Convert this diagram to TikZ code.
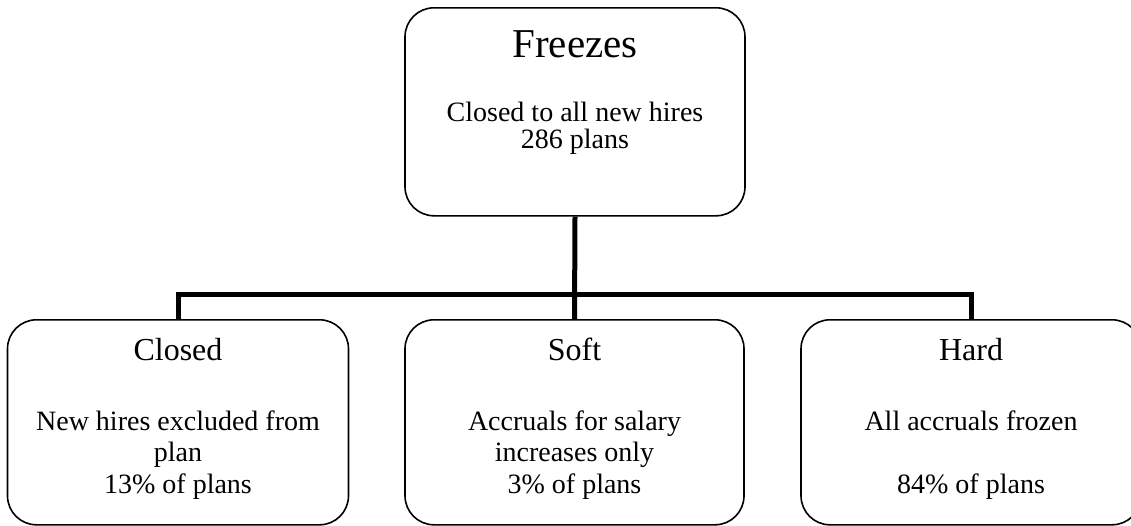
\documentclass[tikz,border=0pt]{standalone}
\usepackage{fontspec}
\setmainfont{Liberation Serif}
\begin{document}
\begin{tikzpicture}[x=1pt,y=-1pt,
  box/.style={draw=black, line width=1.6pt, rounded corners=29pt, inner sep=0pt, anchor=north, minimum height=205pt},
  conn/.style={draw=black, line width=5pt},
  big/.style={anchor=base, inner sep=0pt, font=\fontsize{41}{41}\selectfont},
  ttl/.style={anchor=base, inner sep=0pt, font=\fontsize{32}{32}\selectfont},
  txt/.style={anchor=base, inner sep=0pt, font=\fontsize{28}{28}\selectfont}]
\clip (0,0) rectangle (1131,525);
% boxes
\node[box, minimum width=340pt, minimum height=208pt] (top) at (575,7) {};
\node[box, minimum width=341pt] (closed) at (178,319) {};
\node[box, minimum width=339pt] (soft) at (574.5,319) {};
\node[box, minimum width=340pt] (hard) at (971,319) {};
% connectors
\draw[conn] (top.south) -- (soft.north);
\draw[conn] (closed.north) -- ++(0,-24.5) -| (hard.north);
% texts (multi-line nodes are anchored at the baseline of their last line)
\node[big] (t0) at (575,57) {Freezes};
\node[txt, align=center, font=\fontsize{28}{26.5}\selectfont] (t1) at (575,148) {Closed to all new hires\\286 plans};
\node[ttl] (c0) at (178,360) {Closed};
\node[txt, align=center, font=\fontsize{28}{31.5}\selectfont] (c1) at (178,493) {New hires excluded from\\plan\\13\% of plans};
\node[ttl] (s0) at (574.5,360) {Soft};
\node[txt, align=center, font=\fontsize{28}{31.5}\selectfont] (s1) at (574.5,493) {Accruals for salary\\increases only\\3\% of plans};
\node[ttl] (h0) at (971,360) {Hard};
\node[txt] (h1) at (971,430) {All accruals frozen};
\node[txt] (h2) at (971,493) {84\% of plans};
\end{tikzpicture}
\end{document}
